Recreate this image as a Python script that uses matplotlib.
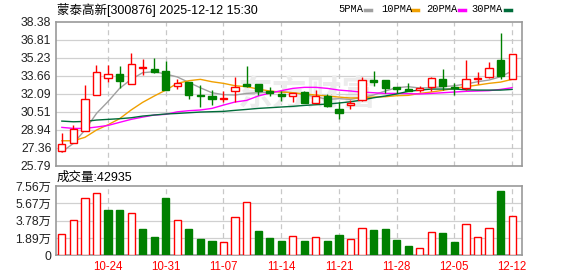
import matplotlib
matplotlib.use('Agg')
import matplotlib.pyplot as plt
from matplotlib.lines import Line2D
import numpy as np

plt.rcParams['font.family'] = ['Liberation Sans', 'Noto Sans CJK SC', 'DejaVu Sans']

# ---------------- data ----------------
opens = [27.07, 27.80, 28.79, 31.94, 33.42, 33.80, 32.90, 34.30, 34.24, 34.07,
         32.78, 33.10, 31.94, 31.88, 31.65, 32.35, 32.93, 32.93, 32.29, 32.06,
         31.91, 32.23, 31.30, 31.85, 30.74, 31.12, 31.53, 33.25, 33.25, 32.64,
         32.52, 32.43, 32.67, 33.37, 32.70, 32.61, 33.34, 33.57, 35.00, 33.34]
closes = [27.65, 28.96, 31.59, 33.95, 33.77, 33.22, 34.65, 34.42, 33.95, 32.40,
          33.02, 31.97, 31.85, 31.65, 31.73, 32.64, 32.75, 32.32, 32.14, 31.88,
          32.17, 31.30, 31.88, 31.01, 30.42, 31.30, 33.25, 33.13, 32.61, 32.49,
          32.35, 32.61, 33.42, 32.78, 32.55, 33.34, 33.45, 34.30, 33.66, 35.55]
highs = [28.62, 29.31, 32.84, 34.59, 34.59, 34.47, 35.64, 35.12, 35.20, 34.94,
         33.37, 33.12, 32.84, 32.40, 32.29, 33.57, 34.50, 32.95, 32.64, 32.35,
         32.17, 32.35, 32.40, 32.06, 31.38, 31.53, 33.51, 34.07, 33.25, 32.64,
         32.99, 32.75, 33.54, 34.24, 32.99, 35.03, 33.98, 34.85, 37.42, 35.55]
lows = [26.95, 27.80, 28.79, 31.94, 33.07, 32.61, 32.90, 33.72, 33.86, 32.40,
        32.49, 31.65, 30.95, 31.06, 31.33, 31.33, 32.70, 31.97, 31.91, 31.47,
        31.33, 31.24, 31.30, 30.89, 29.87, 30.77, 31.47, 32.78, 32.17, 32.11,
        32.35, 32.26, 32.35, 32.40, 31.94, 32.40, 32.93, 33.42, 33.34, 33.34]
volumes = [2.29, 3.82, 6.22, 6.80, 4.95, 4.95, 4.58, 2.87, 2.00, 6.25,
           3.82, 2.87, 1.78, 1.56, 1.42, 4.15, 5.82, 2.65, 1.85, 1.56,
           2.07, 1.56, 1.96, 1.56, 2.22, 1.78, 2.95, 2.76, 2.87, 1.67,
           1.02, 0.76, 2.51, 2.44, 1.45, 3.38, 1.96, 2.95, 7.02, 4.2935]  # 万
ma5 = [27.00, 27.74, 28.91, 30.36, 31.40, 32.55, 33.34, 33.92, 34.01, 33.80,
       33.55, 33.07, 32.60, 32.17, 32.00, 31.97, 32.11, 32.17, 32.23, 32.26,
       32.17, 31.99, 31.82, 31.59, 31.65, 31.59, 31.76, 31.97, 32.32, 32.61,
       32.70, 32.58, 32.61, 32.70, 32.78, 32.93, 33.13, 33.28, 33.57, 34.07]
ma10 = [27.97, 27.97, 28.27, 28.91, 29.37, 29.90, 30.66, 31.33, 31.88, 32.40,
        32.99, 33.22, 33.34, 33.13, 32.99, 32.78, 32.70, 32.49, 32.32, 32.23,
        32.17, 32.06, 31.97, 31.88, 31.79, 31.71, 31.73, 31.79, 31.82, 31.91,
        31.94, 32.11, 32.23, 32.38, 32.55, 32.70, 32.84, 32.99, 33.10, 33.34]
ma20 = [29.14, 29.05, 29.05, 29.17, 29.31, 29.58, 29.84, 30.04, 30.22, 30.28,
        30.50, 30.60, 30.66, 30.80, 31.09, 31.36, 31.50, 31.88, 32.14, 32.35,
        32.55, 32.64, 32.64, 32.55, 32.40, 32.32, 32.23, 32.17, 32.11, 32.11,
        32.09, 32.06, 32.11, 32.17, 32.23, 32.29, 32.32, 32.35, 32.46, 32.61]
ma30 = [29.69, 29.63, 29.66, 29.78, 29.84, 29.90, 29.98, 30.13, 30.22, 30.31,
        30.36, 30.42, 30.48, 30.51, 30.54, 30.63, 30.71, 30.80, 30.86, 30.92,
        30.98, 31.06, 31.12, 31.18, 31.27, 31.38, 31.53, 31.73, 31.88, 32.06,
        32.29, 32.40, 32.49, 32.49, 32.49, 32.43, 32.40, 32.40, 32.40, 32.46]
tick_idx = [4, 9, 14, 19, 24, 29, 34, 39]
tick_labels = ['10-24', '10-31', '11-07', '11-14', '11-21', '11-28', '12-05', '12-12']
price_ticks = [25.79, 27.36, 28.94, 30.51, 32.09, 33.66, 35.23, 36.81, 38.38]
vol_ticks = [0, 1.89, 3.78, 5.67, 7.56]
vol_tick_labels = ['0', '1.89万', '3.78万', '5.67万', '7.56万']
ma_labels = ['5PMA', '10PMA', '20PMA', '30PMA']
title_text = '蒙泰高新[300876] 2025-12-12 15:30'
vol_title = '成交量:42935'

# ---------------- style ----------------
RED = '#ff0000'
GREEN = '#008000'
MA_COLORS = ['#a0a0a0', '#f0a000', '#ff00ff', '#006c3a']
GRID = '#d0d0d0'
SPINE = '#999999'
TXT = '#222222'

W, H = 578, 276
fig = plt.figure(figsize=(W / 100, H / 100), dpi=100)

def ax_rect(l, t, r, b):
    return [l / W, 1 - b / H, (r - l) / W, (b - t) / H]

ax = fig.add_axes(ax_rect(55.5, 21.7, 522.3, 165.7))
axv = fig.add_axes(ax_rect(55.5, 186.0, 522.3, 255.3))

x = np.arange(len(opens))
o = np.array(opens); c = np.array(closes)
hi = np.array(highs); lo = np.array(lows)
up = c >= o
XL = (-0.55, 39.88)

for a in (ax, axv):
    a.set_xlim(*XL)
    for s in a.spines.values():
        s.set_color(SPINE)
        s.set_linewidth(1.2)
    for t in tick_idx:
        a.axvline(t, color='#c8c8c8', lw=0.9, ls=(0, (4, 3)), zorder=0.5)
    a.tick_params(length=0)

# price panel
ax.set_ylim(price_ticks[0], price_ticks[-1])
ax.set_yticks(price_ticks)
ax.set_yticklabels([f'{v:.2f}' for v in price_ticks], fontsize=8.8, color=TXT)
ax.tick_params(axis='y', pad=3)
ax.set_xticks([])
for v in price_ticks[1:-1]:
    ax.axhline(v, color=GRID, lw=0.9, zorder=0.4)

ax.text(0.54, 0.50, '东方财富', transform=ax.transAxes, ha='center', va='center',
        fontsize=25, fontweight='bold', color='#ececec', zorder=0.6,
        family=['Noto Sans CJK SC'])

# MAs
for vals, col in zip([ma5, ma10, ma20, ma30], MA_COLORS):
    ax.plot(x, vals, color=col, lw=1.0, zorder=2)

# candles
cols = np.where(up, RED, GREEN)
ax.vlines(x, lo, hi, colors=cols, lw=1.0, zorder=3)
body_b = np.minimum(o, c)
body_h = np.maximum(np.abs(c - o), 0.025)
ax.bar(x, body_h, bottom=body_b, width=0.62,
       color=np.where(up, 'white', GREEN), edgecolor=cols, linewidth=1.0, zorder=4)

# volume panel
prev = np.concatenate([[c[0] - 1], c[:-1]])
vup = c >= prev
vcols = np.where(vup, RED, GREEN)
axv.set_ylim(0, 7.56)
axv.set_yticks(vol_ticks)
axv.set_yticklabels(vol_tick_labels, fontsize=8.8, color=TXT)
axv.tick_params(axis='y', pad=3)
for v in vol_ticks[1:-1]:
    axv.axhline(v, color=GRID, lw=0.9, zorder=0.4)
axv.bar(x, volumes, width=0.62, color=np.where(vup, 'white', GREEN),
        edgecolor=vcols, linewidth=1.0, zorder=3)
axv.set_xticks(tick_idx)
axv.set_xticklabels(tick_labels, fontsize=8.3, color=RED)
axv.tick_params(axis='x', pad=4)

# titles
fig.text(57 / W, 1 - 10 / H, title_text, fontsize=9, color='#000000', ha='left', va='center')
fig.text(57 / W, 1 - 177.5 / H, vol_title, fontsize=9, color='#000000', ha='left', va='center')

# legend
leg_x = [338, 381, 426, 471]
mark_x = [365, 412, 459, 505]
for lab, lx, mx, col in zip(ma_labels, leg_x, mark_x, MA_COLORS):
    fig.text(lx / W, 1 - 9.5 / H, lab, fontsize=7.5, family=['Liberation Mono'],
             color='#000000', ha='left', va='center')
    fig.add_artist(Line2D([mx / W, (mx + 6) / W], [1 - 9.5 / H, 1 - 9.5 / H],
                          color=col, lw=2.5, transform=fig.transFigure))

fig.savefig('out.png', dpi=100)
